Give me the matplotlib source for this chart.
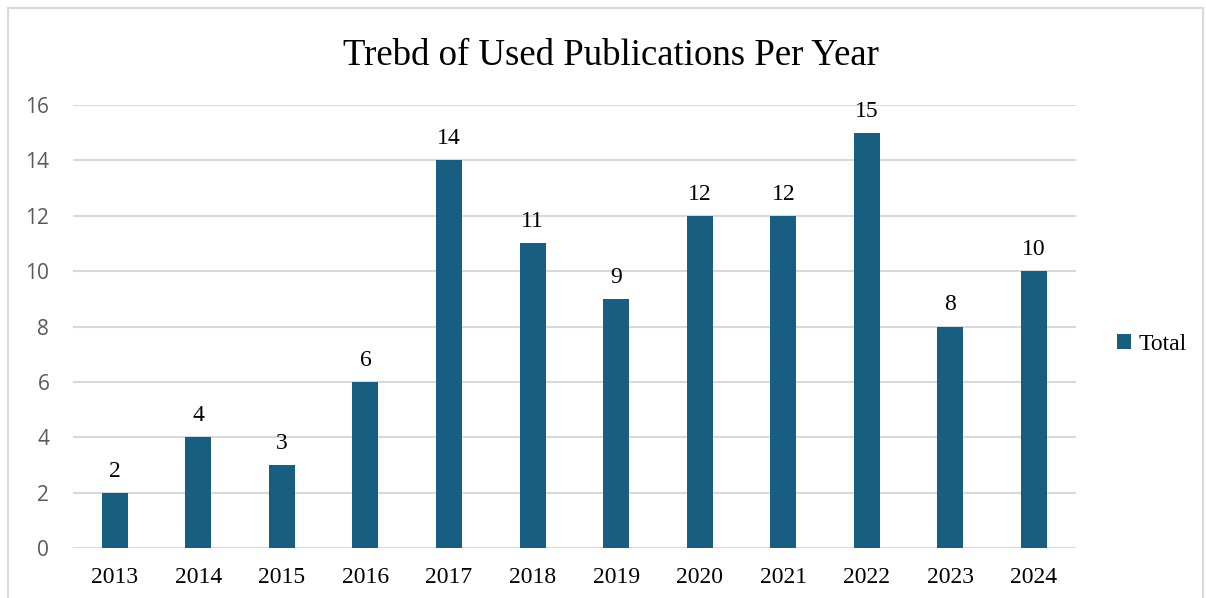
import matplotlib.pyplot as plt
from matplotlib.patches import Rectangle

# data
years = ["2013", "2014", "2015", "2016", "2017", "2018",
         "2019", "2020", "2021", "2022", "2023", "2024"]
totals = [2, 4, 3, 6, 14, 11, 9, 12, 12, 15, 8, 10]
y_ticks = [0, 2, 4, 6, 8, 10, 12, 14, 16]

BAR_COLOR = "#175E80"
GRID_COLOR = "#D9D9D9"
SERIF = ["Liberation Serif", "DejaVu Serif"]

fig = plt.figure(figsize=(12.06, 5.98), dpi=100)
ax = fig.add_axes([0.0605, 0.0836, 0.8315, 0.7408])

x = range(len(years))
bars = ax.bar(x, totals, width=0.31, color=BAR_COLOR, label="Total", zorder=3)

# value labels
for b, v in zip(bars, totals):
    ax.annotate(str(v), (b.get_x() + b.get_width() / 2, v),
                xytext=(0, 8), textcoords="offset points",
                ha="center", va="bottom", fontsize=17, family=SERIF)

ax.set_xlim(-0.5, len(years) - 0.5)
ax.set_ylim(0, 16)
ax.set_yticks(y_ticks)
ax.set_yticklabels([str(t) for t in y_ticks], family="Open Sans",
                   fontsize=15, color="#595959")
ax.set_xticks(list(x))
ax.set_xticklabels(years, family=SERIF, fontsize=17)
ax.tick_params(length=0)
ax.tick_params(axis="y", pad=17)
ax.tick_params(axis="x", pad=14)

ax.grid(axis="y", color=GRID_COLOR, linewidth=1.5, zorder=0)
for s in ax.spines.values():
    s.set_visible(False)

fig.text(611 / 1206, 1 - 56 / 598, "Trebd of Used Publications Per Year",
         family=SERIF, fontsize=26.5, ha="center", va="center")

leg = ax.legend(loc="center left", bbox_to_anchor=(1.02, 0.46), frameon=False,
                prop={"family": SERIF, "size": 17}, handlelength=0.6,
                handleheight=0.6, handletextpad=0.3)

# outer chart border
fig.patches.append(Rectangle((8 / 1206, -0.1), 1195 / 1206, 0.1 + 590 / 598,
                             transform=fig.transFigure, fill=False,
                             edgecolor=GRID_COLOR, linewidth=1.5))

fig.savefig("out.png", dpi=100)
